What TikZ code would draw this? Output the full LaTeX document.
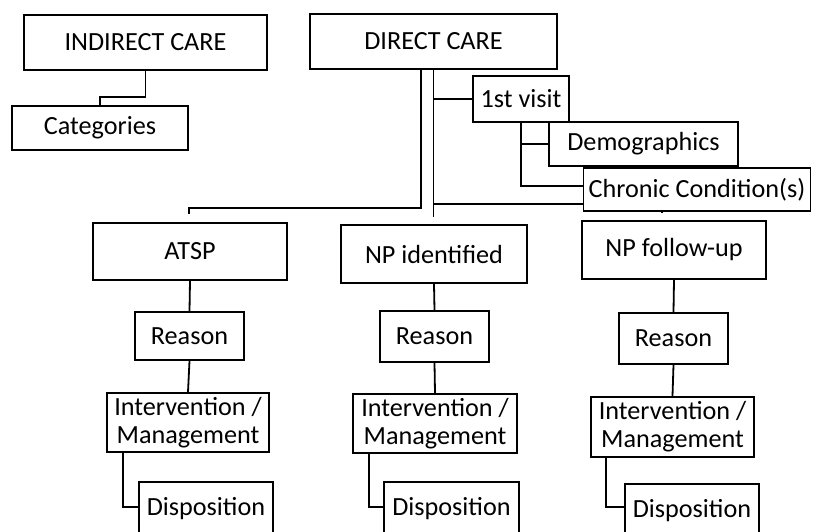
\documentclass[tikz,border=0pt]{standalone}
\usepackage{fontspec}
\setmainfont{Carlito}
\usetikzlibrary{backgrounds}
\begin{document}
\begin{tikzpicture}[x=1pt,y=-1pt]
\tikzset{
  box/.style={draw, line width=1.9pt, fill=white, inner sep=0pt, align=center,
    font=\fontsize{26.2}{28}\selectfont},
  conn/.style={line width=1.8pt}
}
\useasboundingbox (0,0) rectangle (814,532);
\clip (0,0) rectangle (814,532);
% top level
\node[box, minimum width=243pt, minimum height=55pt] (indirect) at (145.5,42.5) {INDIRECT CARE};
\node[box, minimum width=176pt, minimum height=44pt] (categories) at (100,128) {Categories};
\node[box, minimum width=247pt, minimum height=55pt] (direct) at (433.5,41.5) {DIRECT CARE};
\node[box, minimum width=96pt, minimum height=46pt] (visit1) at (521,99) {1st visit};
\node[box, minimum width=189pt, minimum height=44pt] (demog) at (643.5,144) {Demographics};
\node[box, minimum width=227pt, minimum height=43pt] (chronic) at (697,189.5) {Chronic Condition(s)};
% columns
\node[box, minimum width=194pt, minimum height=57pt] (atsp) at (190,251.5) {ATSP};
\node[box, minimum width=186pt, minimum height=58pt] (npid) at (434,254) {NP identified};
\node[box, minimum width=184pt, minimum height=58pt] (npfu) at (674,250) {NP follow-up};
\node[box, minimum width=109pt, minimum height=48pt] (reason1) at (189.5,336) {Reason};
\node[box, minimum width=109pt, minimum height=51pt] (reason2) at (434.5,336.5) {Reason};
\node[box, minimum width=109pt, minimum height=51pt] (reason3) at (673.5,338.5) {Reason};
\node[box, minimum width=162pt, minimum height=59pt] (interv1) at (188,422.5) {Intervention /\\Management};
\node[box, minimum width=164pt, minimum height=59pt] (interv2) at (435,423.5) {Intervention /\\Management};
\node[box, minimum width=163pt, minimum height=60pt] (interv3) at (672.5,427) {Intervention /\\Management};
\node[box, minimum width=134pt, minimum height=53pt] (disp1) at (206,508.5) {Disposition};
\node[box, minimum width=135pt, minimum height=53pt] (disp2) at (451.5,508.5) {Disposition};
\node[box, minimum width=134pt, minimum height=53pt] (disp3) at (692,510.5) {Disposition};
% free ends and junctions
\coordinate (atspend) at (189,214);
\coordinate (npidend) at (433.5,217);
\coordinate (junction) at (433.5,204);
\coordinate (fuend) at (662,213);
\begin{scope}[on background layer]
\draw[conn] (indirect.south) -- ++(0,26) -| (categories.north);
\draw[conn] ([xshift=-12.5pt]direct.south) -- ++(0,138) -| (atspend);
\draw[conn] (direct.south) -- (npidend);
\draw[conn] (direct.south |- visit1.west) -- (visit1.west);
\draw[conn] (junction) -| (fuend);
\draw[conn] (visit1.south) |- ([yshift=3.5pt]chronic.west);
\draw[conn] (visit1.south |- demog.west) -- (demog.west);
\draw[conn] (atsp.south) -- (reason1.north);
\draw[conn] (reason1.south) -- (interv1.north);
\draw[conn] ([xshift=17pt]interv1.south west) |- ([yshift=1.5pt]disp1.west);
\draw[conn] (npid.south) -- (reason2.north);
\draw[conn] (reason2.south) -- (interv2.north);
\draw[conn] ([xshift=17pt]interv2.south west) |- ([yshift=1.5pt]disp2.west);
\draw[conn] (npfu.south) -- (reason3.north);
\draw[conn] (reason3.south) -- (interv3.north);
\draw[conn] ([xshift=16pt]interv3.south west) |- ([yshift=3.5pt]disp3.west);
\end{scope}
\end{tikzpicture}
\end{document}
